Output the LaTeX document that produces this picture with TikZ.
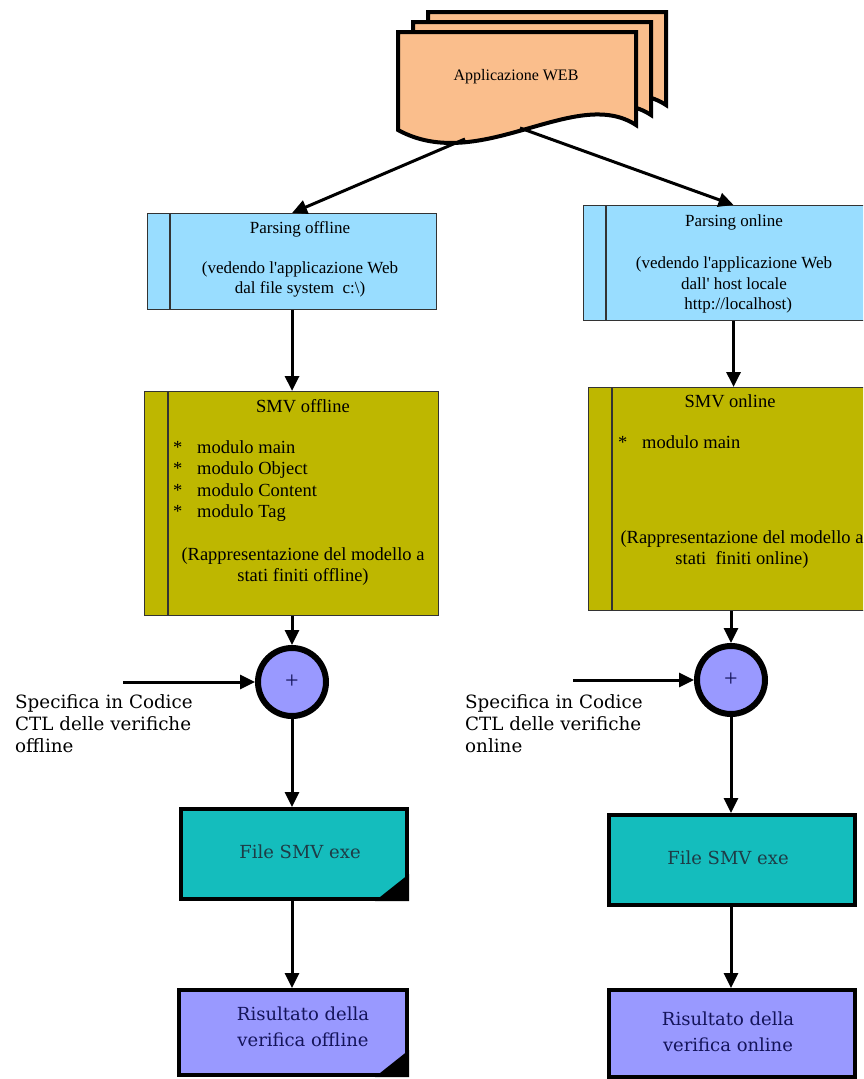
\documentclass[tikz,border=0pt]{standalone}
\usepackage{fontspec}
\setmainfont{Liberation Serif}
\newfontfamily\dvs{DejaVu Serif}
\usetikzlibrary{arrows.meta,calc}
\definecolor{docfill}{RGB}{250,190,140}
\definecolor{parsefill}{RGB}{153,221,255}
\definecolor{smvfill}{RGB}{190,183,0}
\definecolor{violetfill}{RGB}{153,153,255}
\definecolor{filefill}{RGB}{20,189,189}
\definecolor{filetext}{RGB}{30,60,70}
\definecolor{restext}{RGB}{20,20,90}
\begin{document}
\begin{tikzpicture}[x=1pt,y=-1pt,
  arr/.style={line width=3pt,-{Triangle[length=15pt,width=14pt]}},
  docshape/.style={draw=black,line width=4pt,line join=miter,fill=docfill},
  pbox/.style={draw=black!80,line width=1.1pt,fill=parsefill,rectangle,anchor=north west,inner sep=0pt},
  sbox/.style={draw=black!80,line width=1.1pt,fill=smvfill,rectangle,anchor=north west,inner sep=0pt},
  fbox/.style={draw=black,line width=4pt,fill=filefill,rectangle,anchor=north west,inner sep=0pt},
  rbox/.style={draw=black,line width=4pt,fill=violetfill,rectangle,anchor=north west,inner sep=0pt},
  joint/.style={draw=black,line width=6pt,fill=violetfill,circle,inner sep=0pt,minimum size=68pt},
  ptext/.style={font=\fontsize{17}{20}\selectfont,align=center,inner sep=0pt,anchor=north},
  stext/.style={font=\fontsize{18.5}{21.5}\selectfont,inner sep=0pt},
  ltext/.style={font=\dvs\fontsize{18.3}{22}\selectfont,align=left,inner sep=0pt,anchor=north west},
  ftext/.style={font=\dvs\fontsize{18}{26}\selectfont,align=center,inner sep=0pt,text=filetext},
  rtext/.style={font=\dvs\fontsize{18}{26}\selectfont,align=center,inner sep=0pt,text=restext}]
\useasboundingbox (0,0) rectangle (863,1079);
\clip (0,0) rectangle (863,1079);
\fill[white] (0,0) rectangle (863,1079);

% stacked web documents
\foreach \dx/\dy in {30/20,15/10,0/0}{
  \draw[docshape] (398+\dx,32-\dy) -- (636+\dx,32-\dy) -- (636+\dx,125-\dy)
     .. controls (575+\dx,85-\dy) and (480+\dx,175-\dy) .. (398+\dx,130-\dy) -- cycle;
}
\node[font=\fontsize{16}{20}\selectfont,inner sep=0pt] (web) at (516,77) {Applicazione WEB};
\coordinate (webL) at (465,139);
\coordinate (webR) at (520,128);

% parsing boxes
\node[pbox,minimum width=289pt,minimum height=96pt] (poff) at (147,213) {};
\draw[black!80,line width=1.1pt] ($(poff.north west)+(23,0)$) -- ($(poff.south west)+(23,0)$);
\node[ptext] (poff-t) at (300,221) {Parsing offline\\[20pt](vedendo l\textquotesingle applicazione Web\\dal file system\ \ c:\textbackslash)};

\node[pbox,minimum width=300pt,minimum height=115pt] (pon) at (583,205) {};
\draw[black!80,line width=1.1pt] ($(pon.north west)+(23,0)$) -- ($(pon.south west)+(23,0)$);
\node[ptext] (pon-t) at (734,214) {Parsing online\\[23pt](vedendo l\textquotesingle applicazione Web\\dall\textquotesingle\ host locale\\\ \ http://localhost)};

% SMV boxes
\node[sbox,minimum width=294pt,minimum height=224pt] (soff) at (144,391) {};
\draw[black!80,line width=1.1pt] ($(soff.north west)+(24,0)$) -- ($(soff.south west)+(24,0)$);
\node[stext,anchor=north] (soff-t) at (303,399) {SMV offline};
\node[stext,anchor=north west,align=left] (soff-l) at (173,440) {\makebox[24pt][l]{*}modulo main\\\makebox[24pt][l]{*}modulo Object\\\makebox[24pt][l]{*}modulo Content\\\makebox[24pt][l]{*}modulo Tag};
\node[stext,anchor=north,align=center] (soff-p) at (303,547) {(Rappresentazione del modello a\\stati finiti offline)};

\node[sbox,minimum width=292pt,minimum height=223pt] (son) at (588,387) {};
\draw[black!80,line width=1.1pt] ($(son.north west)+(24,0)$) -- ($(son.south west)+(24,0)$);
\node[stext,anchor=north] (son-t) at (730,394) {SMV online};
\node[stext,anchor=north west,align=left] (son-l) at (618,435) {\makebox[24pt][l]{*}modulo main};
\node[stext,anchor=north,align=center] (son-p) at (742,530) {(Rappresentazione del modello a\\stati\ \ finiti online)};

% joints
\node[joint] (joff) at (292,682) {};
\node[font=\fontsize{24}{24}\selectfont,inner sep=0pt,text=restext] (joff-p) at (292,682) {+};
\node[joint] (jon) at (731,680) {};
\node[font=\fontsize{24}{24}\selectfont,inner sep=0pt,text=restext] (jon-p) at (731,680) {+};

\coordinate (specoff) at (123,682);
\coordinate (specon) at (573,680);
\node[ltext] (loff) at (15,694) {Specifica in Codice\\CTL delle verifiche\\offline};
\node[ltext] (lon) at (465,694) {Specifica in Codice\\CTL delle verifiche\\online};

% file SMV exe
\node[fbox,minimum width=226pt,minimum height=90pt] (foff) at (179,807) {};
\fill[black] ($(foff.south east)+(-34,0)$) -- (foff.south east) -- ($(foff.south east)+(0,-27)$) -- cycle;
\node[ftext] (foff-t) at (300,852) {File SMV exe};
\node[fbox,minimum width=246pt,minimum height=90pt] (fon) at (607,813) {};
\node[ftext] (fon-t) at (728,858) {File SMV exe};

% risultato
\node[rbox,minimum width=228pt,minimum height=85pt] (roff) at (177,988) {};
\fill[black] ($(roff.south east)+(-34,0)$) -- (roff.south east) -- ($(roff.south east)+(0,-27)$) -- cycle;
\node[rtext] (roff-t) at (303,1027) {Risultato della\\verifica offline};
\node[rbox,minimum width=246pt,minimum height=87pt] (ron) at (607,988) {};
\node[rtext] (ron-t) at (728,1032) {Risultato della\\verifica online};

% connectors
\draw[arr] (webL) -- (poff.north);
\draw[arr] (webR) -- (pon.north);
\draw[arr] (poff.south) -- (poff.south |- soff.north);
\draw[arr] (pon.south) -- (pon.south |- son.north);
\draw[arr] (soff.south -| joff.north) -- (joff.north);
\draw[arr] (son.south -| jon.north) -- (jon.north);
\draw[arr] (specoff) -- (joff.west);
\draw[arr] (specon) -- (jon.west);
\draw[arr] (joff.south) -- (joff.south |- foff.north);
\draw[arr] (jon.south) -- (jon.south |- fon.north);
\draw[arr] (foff.south -| joff.south) -- (joff.south |- roff.north);
\draw[arr] (fon.south -| jon.south) -- (jon.south |- ron.north);
\end{tikzpicture}
\end{document}
